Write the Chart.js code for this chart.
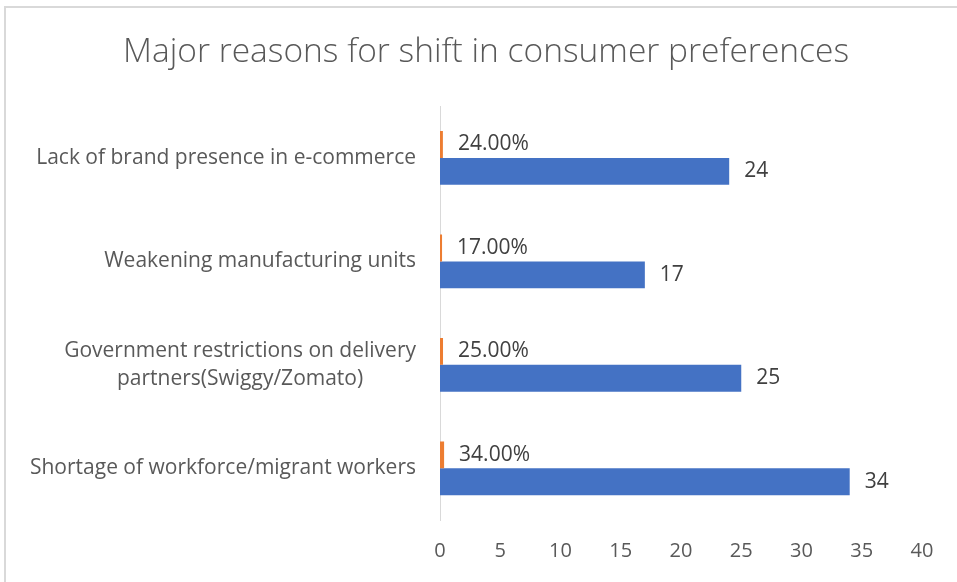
<!DOCTYPE html>
<html>
<head>
<meta charset="utf-8">
<script src="https://cdn.jsdelivr.net/npm/chart.js@4"></script>
<style>
  body { margin: 0; background: #fff; }
</style>
</head>
<body>
<canvas id="reasonsChart" width="957" height="582"></canvas>
<script>
const categories = [
  "Lack of brand presence in e-commerce",
  "Weakening manufacturing units",
  ["Government restrictions on delivery", "partners(Swiggy/Zomato)"],
  "Shortage of workforce/migrant workers"
];
const percentValues = [0.24, 0.17, 0.25, 0.34];
const countValues = [24, 17, 25, 34];
const xTicks = [0, 5, 10, 15, 20, 25, 30, 35, 40];

const FONT = "'Open Sans'";

// white background + thin grey frame like the office chart
const framePlugin = {
  id: "frame",
  beforeDraw(chart) {
    const ctx = chart.ctx;
    ctx.save();
    ctx.fillStyle = "#fff";
    ctx.fillRect(0, 0, chart.width, chart.height);
    ctx.strokeStyle = "#d9d9d9";
    ctx.lineWidth = 2;
    ctx.strokeRect(5, 7, chart.width, chart.height);
    ctx.restore();
  }
};

// category labels: right aligned block, wrapped lines centred inside it
const categoryLabels = {
  id: "categoryLabels",
  afterDraw(chart) {
    const ctx = chart.ctx;
    const y = chart.scales.y;
    const right = chart.chartArea.left - 24;
    const lh = 28;
    ctx.save();
    ctx.font = "21px " + FONT;
    ctx.fillStyle = "#595959";
    ctx.textAlign = "center";
    ctx.textBaseline = "middle";
    categories.forEach((lab, i) => {
      const lines = Array.isArray(lab) ? lab : [lab];
      const w = Math.max(...lines.map(l => ctx.measureText(l).width));
      const cx = right - w / 2;
      const cy = y.getPixelForValue(i);
      lines.forEach((l, k) => {
        ctx.fillText(l, cx, cy + (k - (lines.length - 1) / 2) * lh);
      });
    });
    ctx.restore();
  }
};

// value labels at the end of each bar
const valueLabels = {
  id: "valueLabels",
  afterDatasetsDraw(chart) {
    const ctx = chart.ctx;
    ctx.save();
    ctx.font = "21px " + FONT;
    ctx.fillStyle = "#404040";
    ctx.textAlign = "left";
    ctx.textBaseline = "middle";
    chart.data.datasets.forEach((ds, i) => {
      const meta = chart.getDatasetMeta(i);
      meta.data.forEach((bar, j) => {
        const v = ds.data[j];
        const txt = i === 0 ? (v * 100).toFixed(2) + "%" : String(v);
        ctx.fillText(txt, bar.x + 15, bar.y);
      });
    });
    ctx.restore();
  }
};

new Chart(document.getElementById("reasonsChart"), {
  type: "bar",
  data: {
    labels: categories,
    datasets: [
      {
        label: "Percentage",
        data: percentValues,
        backgroundColor: "#ED7D31",
        categoryPercentage: 0.52,
        barPercentage: 1
      },
      {
        label: "Responses",
        data: countValues,
        backgroundColor: "#4472C4",
        categoryPercentage: 0.52,
        barPercentage: 1
      }
    ]
  },
  options: {
    indexAxis: "y",
    responsive: false,
    animation: false,
    layout: { padding: { left: 50, right: 35, top: 0, bottom: 0 } },
    plugins: {
      legend: { display: false },
      tooltip: { enabled: false },
      title: {
        display: true,
        text: "Major reasons for shift in consumer preferences",
        color: "#595959",
        font: { family: FONT, size: 33.5, weight: "300" },
        padding: { top: 32, bottom: 34 }
      }
    },
    scales: {
      x: {
        min: 0,
        max: 40,
        afterBuildTicks(scale) { scale.ticks = xTicks.map(v => ({ value: v })); },
        grid: { display: false, drawTicks: false },
        border: { display: false },
        ticks: { color: "#595959", font: { family: FONT, size: 20 }, padding: 19 }
      },
      y: {
        afterFit(scale) { scale.width = 390; },
        grid: { display: false, drawTicks: false },
        border: { display: true, color: "#d9d9d9", width: 1 },
        ticks: { display: false }
      }
    }
  },
  plugins: [framePlugin, categoryLabels, valueLabels]
});
</script>
</body>
</html>
